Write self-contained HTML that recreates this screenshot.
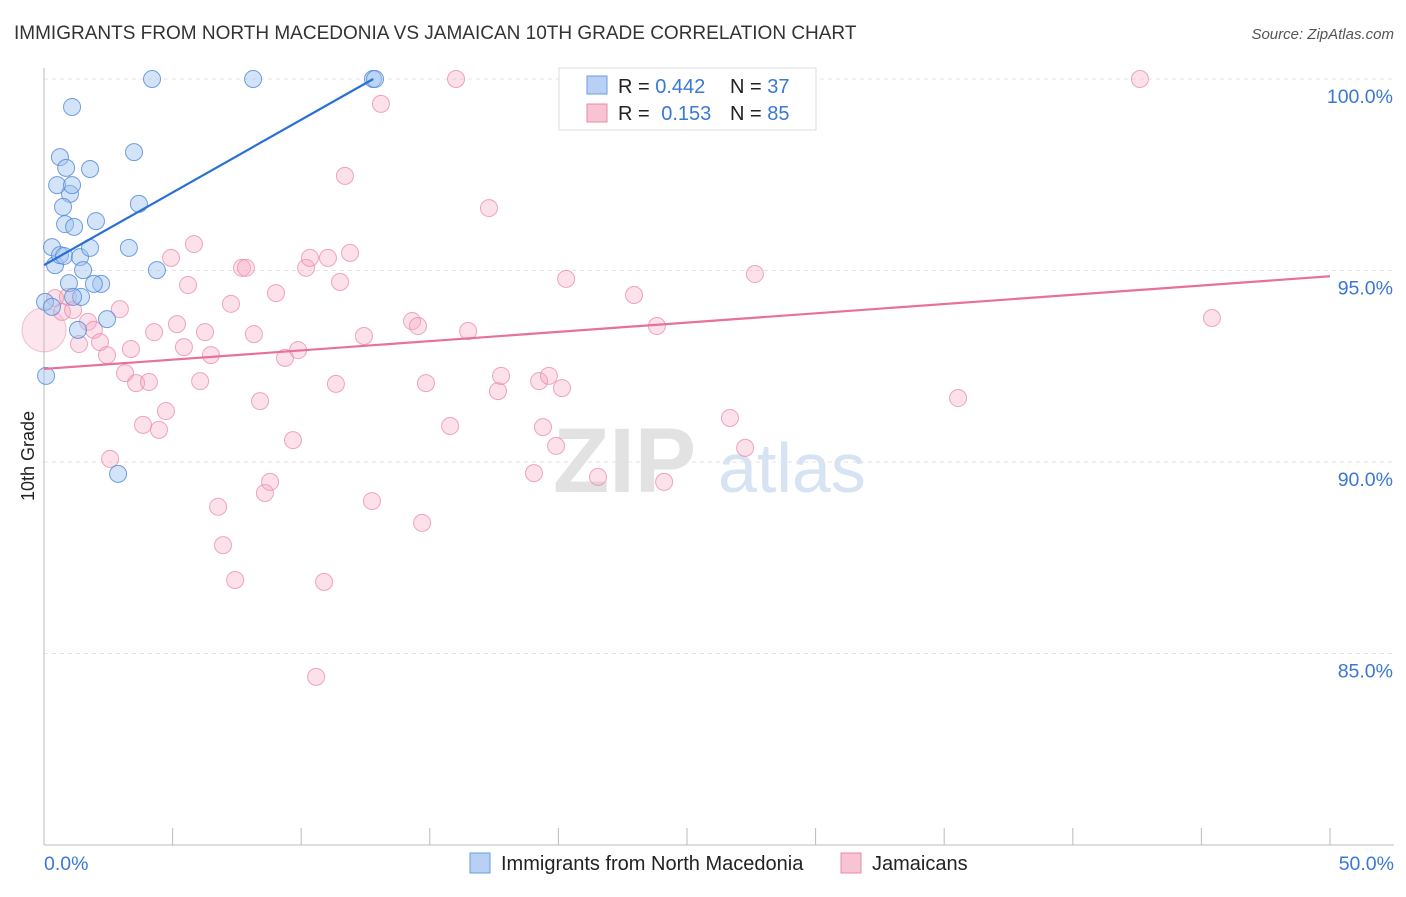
<!DOCTYPE html>
<html><head><meta charset="utf-8"><style>
body{margin:0;background:#fff;font-family:"Liberation Sans",sans-serif;}
svg text{font-family:"Liberation Sans",sans-serif;}
</style></head><body>
<svg id="chart" width="1406" height="892" viewBox="0 0 1406 892">
<text x="14" y="39" font-size="19" fill="#333">IMMIGRANTS FROM NORTH MACEDONIA VS JAMAICAN 10TH GRADE CORRELATION CHART</text>
<text x="1394" y="39" font-size="15" fill="#555" text-anchor="end" font-style="italic">Source: ZipAtlas.com</text>
<g id="watermark">
<text x="553" y="492" font-size="92" fill="#e2e2e2" font-family="Liberation Serif" font-weight="bold">ZIP</text>
<text x="718" y="492" font-size="70" fill="#d6e3f3">atlas</text>
</g>
<g id="grid"></g>
<g id="axes"></g>
<g id="marks"></g>
<text transform="translate(34,456) rotate(-90)" font-size="18" fill="#222" text-anchor="middle">10th Grade</text>
<g>
<rect x="559" y="68" width="257" height="62" fill="#fff" stroke="#ddd"/>
<rect x="587" y="76" width="20" height="18" fill="#b8d0f4" stroke="#6a9ee0"/>
<rect x="587" y="104" width="20" height="18" fill="#f8c4d4" stroke="#e88aa8"/>
<text x="618" y="93" font-size="20" fill="#222">R = <tspan fill="#3a78d4">0.442</tspan><tspan x="730">N = </tspan><tspan fill="#3a78d4">37</tspan></text>
<text x="618" y="120" font-size="20" fill="#222">R = <tspan fill="#3a78d4" dx="6">0.153</tspan><tspan x="730">N = </tspan><tspan fill="#3a78d4">85</tspan></text>
</g>
<g>
<rect x="470" y="853" width="20" height="20" fill="#b8d0f4" stroke="#6a9ee0"/>
<text x="501" y="870" font-size="20" fill="#222">Immigrants from North Macedonia</text>
<rect x="841" y="853" width="20" height="20" fill="#f8c4d4" stroke="#e88aa8"/>
<text x="872" y="870" font-size="20" fill="#222">Jamaicans</text>
</g>
</svg>
<script>
const xTicksMajor=[0,50];
const yTicks=[85,90,95,100];
const blueX=[0.04,0.31,0.43,0.62,0.51,0.86,1.09,1.01,1.09,0.74,0.82,1.17,2.02,1.79,0.62,0.78,1.40,1.52,1.79,0.97,2.22,1.94,1.44,1.13,1.32,2.45,0.31,0.08,2.88,3.30,3.50,3.69,4.39,4.20,8.13,12.79,12.87];
const blueY=[94.18,95.61,95.14,97.96,97.23,97.68,99.27,97.0,97.23,96.66,96.21,96.14,96.29,97.65,95.40,95.38,95.35,95.01,95.59,94.67,94.65,94.65,94.31,94.31,93.45,93.73,94.05,92.25,89.69,95.59,98.09,96.74,95.01,100,100,100,100];
const pinkX=[0.43,0.70,0.93,1.13,1.36,1.71,1.94,2.18,2.45,2.95,3.15,3.38,3.58,4.08,3.85,4.28,4.47,4.74,4.94,5.17,5.44,5.60,5.83,6.07,6.26,6.49,6.77,6.96,7.27,7.43,7.70,7.85,8.16,8.40,8.59,8.79,9.02,9.37,9.68,9.88,10.19,10.34,10.58,10.89,11.04,11.35,11.51,11.70,11.90,12.44,12.75,13.10,14.31,14.54,14.70,14.85,15.79,16.02,16.49,17.30,17.65,17.77,19.05,19.25,19.40,19.63,19.91,20.14,20.30,21.54,22.94,23.83,24.11,26.52,26.67,27.26,27.64,35.54,42.61,45.41,2.57];
const pinkY=[94.28,93.92,94.31,93.97,93.08,93.66,93.45,93.13,92.79,93.99,92.32,92.95,92.06,92.09,90.97,93.39,90.84,91.33,95.33,93.60,93.00,94.62,95.69,92.11,93.39,92.79,88.83,87.83,94.13,86.92,95.07,95.07,93.34,91.59,89.19,89.48,94.41,92.72,90.57,92.92,95.07,95.33,84.39,86.87,95.33,92.04,94.70,97.47,95.46,93.29,88.98,99.35,93.68,93.55,88.41,92.06,90.94,100,93.42,96.63,91.85,92.25,89.71,92.11,90.91,92.25,90.42,91.93,94.78,89.61,94.36,93.55,89.48,100,91.15,90.37,94.91,91.67,100,93.76,90.08];
const bigPink=[0,93.45];
const blueTrendX=[0,12.8], blueTrendY=[95.14,100];
const pinkTrendX=[0,50], pinkTrendY=[92.43,94.85];

const NS="http://www.w3.org/2000/svg";
const X0=44,X1=1330,Y100=79,PXPERPCT=38.3;
function sx(v){return X0+(v/50)*(X1-X0);}
function sy(v){return Y100+(100-v)*PXPERPCT;}
function mk(tag,attrs,parent){const e=document.createElementNS(NS,tag);for(const k in attrs)e.setAttribute(k,attrs[k]);parent.appendChild(e);return e;}
const grid=document.getElementById('grid'),axes=document.getElementById('axes'),marks=document.getElementById('marks');
yTicks.forEach(t=>{
 const l=mk('line',{x1:X0,x2:1394,y1:sy(t),y2:sy(t),stroke:'#e3e3e3','stroke-dasharray':'4,4'},grid);
 
 
 const tx=mk('text',{x:1393,y:sy(t)+24,'font-size':19.5,fill:'#3a78d4','text-anchor':'end'},axes);
 tx.textContent=t.toFixed(1)+'%';
 
 
});
const ya=mk('line',{x1:X0,x2:X0,y1:68,y2:845,stroke:'#bbb'},axes);


const xa=mk('line',{x1:X0,x2:1394,y1:845,y2:845,stroke:'#bbb'},axes);


for(let i=0;i<=10;i++){
 const tk=mk('line',{x1:sx(i*5),x2:sx(i*5),y1:828,y2:845,stroke:'#bbb'},axes);
 
 
}
xTicksMajor.forEach((t,i)=>{
 const tx=mk('text',{x:i==0?sx(t):sx(t)+64,y:870,'font-size':19.5,fill:'#3a78d4','text-anchor':i==0?'start':'end'},axes);
 tx.textContent=t.toFixed(1)+'%';
 
 
});
const bp=mk('circle',{cx:sx(bigPink[0]),cy:sy(bigPink[1]),r:22,fill:'rgba(245,170,195,0.3)',stroke:'rgba(232,138,168,0.5)'},marks);


pinkX.forEach((x,i)=>{
 const c=mk('circle',{cx:sx(x),cy:sy(pinkY[i]),r:8.5,fill:'rgba(245,170,195,0.35)',stroke:'rgba(232,138,168,0.75)','stroke-width':1},marks);
 
 
});
blueX.forEach((x,i)=>{
 const c=mk('circle',{cx:sx(x),cy:sy(blueY[i]),r:8.5,fill:'rgba(160,195,240,0.45)',stroke:'rgba(80,135,215,0.8)','stroke-width':1},marks);
 
 
});
const bl=mk('line',{x1:sx(blueTrendX[0]),y1:sy(blueTrendY[0]),x2:sx(blueTrendX[1]),y2:sy(blueTrendY[1]),stroke:'#2a6fd6','stroke-width':2.2},marks);


const pl=mk('line',{x1:sx(pinkTrendX[0]),y1:sy(pinkTrendY[0]),x2:sx(pinkTrendX[1]),y2:sy(pinkTrendY[1]),stroke:'#e8709a','stroke-width':2.2},marks);


</script>
</body></html>
